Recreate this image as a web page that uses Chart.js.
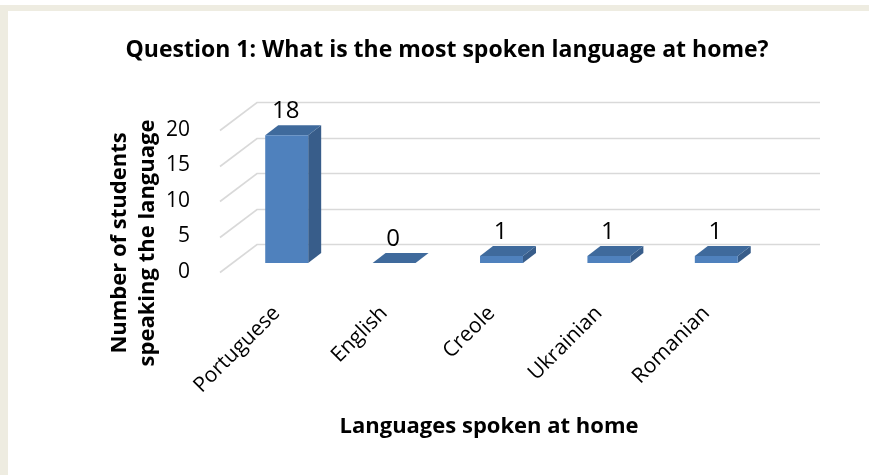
<!DOCTYPE html>
<html><head><meta charset="utf-8">
<script src="https://cdn.jsdelivr.net/npm/chart.js@4"></script>
<style>html,body{margin:0;padding:0;background:#fff;}canvas{display:block;}</style>
</head><body>
<canvas id="c" width="869" height="475"></canvas>
<script>
const categories = ['Portuguese', 'English', 'Creole', 'Ukrainian', 'Romanian'];
const studentCounts = [18, 0, 1, 1, 1];
const yTickValues = [0, 5, 10, 15, 20];
const chartTitle = 'Question 1: What is the most spoken language at home?';
const xAxisTitle = 'Languages spoken at home';
const yAxisTitle = ['Number of students', 'speaking the language'];

const FONT = '"Open Sans", Lato, sans-serif';
const BAR_SHIFT_Y = -9;          // bar front plane relative to axis plane
const BAR_DEPTH = {dx: 13, dy: -10};
const FLOOR_DEPTH = {dx: 37, dy: -28};

const threeD = {
  id: 'threeD',
  beforeDraw(chart) {
    const {ctx, width, height} = chart;
    ctx.save();
    ctx.fillStyle = '#ffffff';
    ctx.fillRect(0, 0, width, height);
    ctx.fillStyle = '#EEECE1';
    ctx.fillRect(0, 5, width, 6);
    ctx.fillRect(0, 5, 8, height - 5);
    ctx.restore();
  },
  beforeDatasetsDraw(chart) {
    const {ctx, chartArea} = chart;
    const y = chart.scales.y;
    ctx.save();
    ctx.strokeStyle = '#D9D9D9';
    ctx.lineWidth = 1.6;
    yTickValues.forEach(v => {
      const py = Math.round(y.getPixelForValue(v)) + 0.5;
      const fx = chartArea.left - 13;
      ctx.beginPath();
      ctx.moveTo(fx, py);
      ctx.lineTo(fx + FLOOR_DEPTH.dx, py + FLOOR_DEPTH.dy);
      ctx.lineTo(chartArea.right + 50, py + FLOOR_DEPTH.dy);
      ctx.stroke();
    });
    ctx.restore();
    const meta = chart.getDatasetMeta(0);
    ctx.save();
    ctx.translate(0, BAR_SHIFT_Y);
    meta.data.forEach(el => {
      const {x, y: top, base, width} = el.getProps(['x', 'y', 'base', 'width'], true);
      const l = x - width / 2, r = x + width / 2;
      const {dx, dy} = BAR_DEPTH;
      ctx.fillStyle = '#385D8A';
      ctx.beginPath();
      ctx.moveTo(r, top); ctx.lineTo(r + dx, top + dy); ctx.lineTo(r + dx, base + dy); ctx.lineTo(r, base);
      ctx.closePath(); ctx.fill();
      ctx.fillStyle = '#3F6A9C';
      ctx.beginPath();
      ctx.moveTo(l, top); ctx.lineTo(r, top); ctx.lineTo(r + dx, top + dy); ctx.lineTo(l + dx, top + dy);
      ctx.closePath(); ctx.fill();
    });
    ctx.restore();
    ctx.save();
    ctx.translate(0, BAR_SHIFT_Y);
  },
  afterDatasetsDraw(chart) {
    const {ctx} = chart;
    ctx.restore();
    const meta = chart.getDatasetMeta(0);
    ctx.save();
    ctx.fillStyle = '#000000';
    ctx.font = '24px ' + FONT;
    ctx.textAlign = 'center';
    ctx.textBaseline = 'middle';
    meta.data.forEach((el, i) => {
      const {x, y: top} = el.getProps(['x', 'y'], true);
      ctx.fillText(String(studentCounts[i]), x - 1, top + BAR_SHIFT_Y - 24);
    });
    ctx.restore();
  },
  afterDraw(chart) {
    const {ctx} = chart;
    ctx.save();
    ctx.fillStyle = '#000000';
    ctx.textAlign = 'center';
    ctx.textBaseline = 'middle';
    ctx.font = 'bold 23px ' + FONT;
    ctx.fillText(chartTitle, 447, 50);
    ctx.font = 'bold 22px ' + FONT;
    ctx.fillText(xAxisTitle, 489, 427);
    ctx.translate(134, 243);
    ctx.rotate(-Math.PI / 2);
    ctx.fillText(yAxisTitle[0], 0, -14);
    ctx.fillText(yAxisTitle[1], 0, 14);
    ctx.restore();
  }
};

new Chart(document.getElementById('c'), {
  type: 'bar',
  data: {
    labels: categories,
    datasets: [{
      data: studentCounts,
      backgroundColor: '#4F81BD',
      borderWidth: 0,
      barPercentage: 0.40,
      categoryPercentage: 1.0
    }]
  },
  options: {
    responsive: false,
    animation: false,
    devicePixelRatio: 1,
    layout: {padding: {left: 0, top: 130, right: 99, bottom: 0}},
    plugins: {legend: {display: false}, tooltip: {enabled: false}, title: {display: false}},
    scales: {
      x: {
        grid: {display: false, drawTicks: false, tickLength: 0},
        border: {display: false},
        ticks: {
          font: {family: FONT, size: 21},
          color: '#000000',
          minRotation: 45, maxRotation: 45,
          padding: 29,
          labelOffset: -10,
          autoSkip: false
        },
        afterFit(scale) { scale.height = 203; }
      },
      y: {
        min: 0, max: 20,
        grid: {display: false, drawTicks: false, tickLength: 0},
        border: {display: false},
        ticks: {
          stepSize: 5,
          font: {family: FONT, size: 21},
          color: '#000000',
          padding: 43
        },
        afterFit(scale) { scale.width = 233; }
      }
    }
  },
  plugins: [threeD]
});
</script>
</body></html>
